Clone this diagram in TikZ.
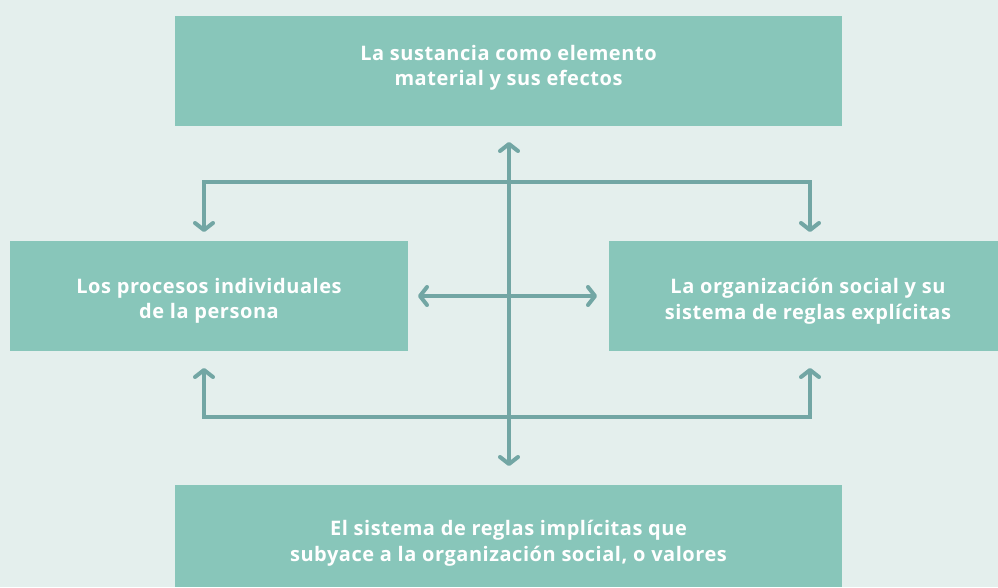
\documentclass[tikz,border=0pt]{standalone}
\usepackage{fontspec}
\setmainfont{Open Sans}
\usepackage{tikz}
\usetikzlibrary{arrows.meta}
\usepackage{xcolor}
\definecolor{bgc}{HTML}{E4EFED}
\definecolor{boxc}{HTML}{88C6BA}
\definecolor{linec}{HTML}{72A6A4}

\begin{document}
\begin{tikzpicture}[x=1pt, y=-1pt,
  box/.style={fill=boxc, text=white, align=center, inner sep=0pt,
    font=\bfseries\fontsize{20}{25.5}\selectfont\addfontfeature{LetterSpace=2.7}},
  link/.style={draw=linec, line width=4pt,
    arrows={-Straight Barb[length=7pt,width=18pt,round]}}]
\useasboundingbox (0,0) rectangle (998,587);
\fill[bgc] (0,0) rectangle (998,587);
% boxes
\node[box, minimum width=667pt, minimum height=110pt] (sustancia) at (508.5,71) {};
\node[box, minimum width=398pt, minimum height=110pt] (procesos) at (209,296) {};
\node[box, minimum width=398pt, minimum height=110pt] (organizacion) at (808,296) {};
\node[box, minimum width=667pt, minimum height=102pt] (valores) at (508.5,536) {};
% texts
\node[box, fill=none] (sustanciatxt) at (508.5,68) {La sustancia como elemento\\material y sus efectos};
\node[box, fill=none] (procesostxt) at (209,301) {Los procesos individuales\\de la persona};
\node[box, fill=none] (organizaciontxt) at (808,301) {La organización social y su\\sistema de reglas explícitas};
\node[box, fill=none] (valorestxt) at (508.5,543) {El sistema de reglas implícitas que\\subyace a la organización social, o valores};
% connector ends
\coordinate (vtop) at (509,142);
\coordinate (vbot) at (509,466);
\coordinate (tl) at (204,232);
\coordinate (tr) at (810,232);
\coordinate (bl) at (204,368);
\coordinate (br) at (810,368);
\coordinate (ml) at (418,296);
\coordinate (mr) at (597,296);
% arrows
\draw[link, {Straight Barb[length=7pt,width=18pt,round]}-{Straight Barb[length=7pt,width=18pt,round]}] (vbot) -- (vtop);
\draw[link, {Straight Barb[length=7pt,width=18pt,round]}-{Straight Barb[length=7pt,width=18pt,round]}] (tl) |- (509,182) -| (tr);
\draw[link, {Straight Barb[length=7pt,width=18pt,round]}-{Straight Barb[length=7pt,width=18pt,round]}] (bl) |- (509,417) -| (br);
\draw[link, {Straight Barb[length=7pt,width=18pt,round]}-{Straight Barb[length=7pt,width=18pt,round]}] (ml) -- (mr);
\end{tikzpicture}
\end{document}
